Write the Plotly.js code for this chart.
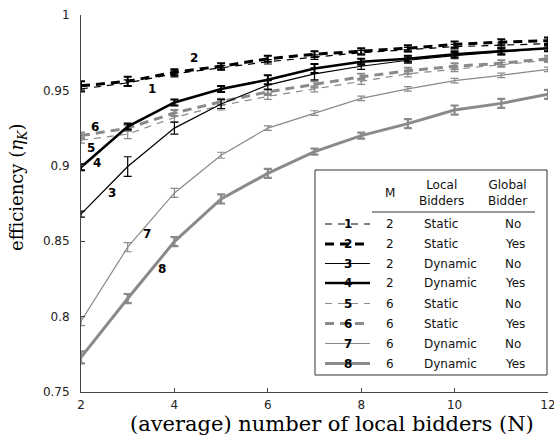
<!DOCTYPE html>
<html>
<head>
<meta charset="utf-8">
<script src="https://cdn.plot.ly/plotly-3.0.1.min.js"></script>
<style>html,body{margin:0;padding:0;background:#fff;}#chart{width:554px;height:441px;}</style>
</head>
<body>
<div id="chart"></div>
<script>
// ---- data ----
const N = [2, 3, 4, 5, 6, 7, 8, 9, 10, 11, 12];
const xTickVals = [2, 4, 6, 8, 10, 12];
const yTickVals = [0.75, 0.8, 0.85, 0.9, 0.95, 1];
const yTickText = ["0.75", "0.8", "0.85", "0.9", "0.95", "1"];

const s1 = [0.951, 0.955, 0.961, 0.965, 0.969, 0.972, 0.975, 0.977, 0.979, 0.980, 0.981];
const s2 = [0.953, 0.956, 0.962, 0.966, 0.971, 0.974, 0.976, 0.978, 0.9805, 0.982, 0.983];
const s3 = [0.868, 0.8995, 0.925, 0.941, 0.9535, 0.961, 0.966, 0.970, 0.973, 0.9755, 0.978];
const s4 = [0.899, 0.926, 0.942, 0.951, 0.957, 0.9645, 0.969, 0.971, 0.974, 0.976, 0.978];
const s5 = [0.917, 0.921, 0.932, 0.940, 0.946, 0.951, 0.956, 0.961, 0.964, 0.967, 0.970];
const s6 = [0.920, 0.925, 0.935, 0.9425, 0.949, 0.954, 0.959, 0.963, 0.966, 0.968, 0.971];
const s7 = [0.797, 0.846, 0.882, 0.907, 0.925, 0.935, 0.9447, 0.951, 0.9565, 0.960, 0.964];
const s8 = [0.773, 0.812, 0.8497, 0.878, 0.895, 0.9094, 0.920, 0.928, 0.937, 0.9414, 0.9474];

const e1 = [0.002, 0.002, 0.002, 0.0015, 0.0015, 0.0015, 0.0015, 0.0015, 0.0015, 0.0015, 0.0015];
const e2 = [0.003, 0.003, 0.002, 0.002, 0.002, 0.002, 0.002, 0.002, 0.002, 0.002, 0.002];
const e3 = [0.002, 0.0065, 0.004, 0.003, 0.003, 0.004, 0.002, 0.002, 0.002, 0.002, 0.002];
const e4 = [0.002, 0.002, 0.002, 0.002, 0.003, 0.003, 0.002, 0.002, 0.002, 0.002, 0.002];
const e5 = [0.002, 0.003, 0.003, 0.003, 0.002, 0.002, 0.002, 0.002, 0.0015, 0.0015, 0.0015];
const e6 = [0.002, 0.002, 0.002, 0.002, 0.002, 0.002, 0.002, 0.002, 0.002, 0.002, 0.002];
const e7 = [0.003, 0.003, 0.003, 0.002, 0.0015, 0.0015, 0.0015, 0.0015, 0.0015, 0.0015, 0.0015];
const e8 = [0.004, 0.003, 0.003, 0.003, 0.003, 0.002, 0.002, 0.003, 0.003, 0.003, 0.003];

const seriesNames = ["1", "2", "3", "4", "5", "6", "7", "8"];
const colM = ["2", "2", "2", "2", "6", "6", "6", "6"];
const colLocal = ["Static", "Static", "Dynamic", "Dynamic", "Static", "Static", "Dynamic", "Dynamic"];
const colGlobal = ["No", "Yes", "No", "Yes", "No", "Yes", "No", "Yes"];

// label positions on the curves (data coords)
const lblX = [3.53, 4.43, 2.67, 2.34, 2.21, 2.31, 3.41, 3.74];
const lblY = [0.9507, 0.9713, 0.8822, 0.9017, 0.9116, 0.926, 0.8548, 0.8314];

// ---- styles ----
const BLACK = "#000000", GRAY = "#8a8a8a";
const styles = [
  {c: BLACK, w: 1.2, dash: "7px,6px", ew: 1.2},
  {c: BLACK, w: 3, dash: "9px,6px", ew: 2},
  {c: BLACK, w: 1.2, dash: "solid", ew: 1.2},
  {c: BLACK, w: 2.6, dash: "solid", ew: 2},
  {c: GRAY, w: 1.2, dash: "7px,6px", ew: 1.2},
  {c: GRAY, w: 3, dash: "9px,6px", ew: 2},
  {c: GRAY, w: 1.2, dash: "solid", ew: 1.2},
  {c: GRAY, w: 3, dash: "solid", ew: 2.2}
];
const ys = [s1, s2, s3, s4, s5, s6, s7, s8];
const es = [e1, e2, e3, e4, e5, e6, e7, e8];

const traces = ys.map((y, i) => ({
  x: N, y: y, type: "scatter", mode: "lines",
  line: {color: styles[i].c, width: styles[i].w, dash: styles[i].dash},
  error_y: {type: "data", array: es[i], visible: true, color: styles[i].c, thickness: styles[i].ew, width: 4},
  showlegend: false, hoverinfo: "skip"
}));
// draw gray first, black on top
const order = [7, 6, 5, 4, 2, 3, 0, 1];
const data = order.map(i => traces[i]);

// plot area in pixels
const L = 81, R = 548, T = 15, B = 392;
const px = v => (v - L) / (R - L);
const py = v => (B - v) / (B - T);

const annotations = [];
const shapes = [];
function ann(x, y, text, font, xanchor, extra) {
  return Object.assign({x: px(x), y: py(y), xref: "paper", yref: "paper", text: text, showarrow: false,
    font: font, xanchor: xanchor || "center", yanchor: "middle"}, extra || {});
}
const numFont = {family: "DejaVu Sans", size: 12, color: "#000"};
seriesNames.forEach((n, i) => {
  annotations.push({x: lblX[i], y: lblY[i], xref: "x", yref: "y", text: "<b>" + n + "</b>",
    showarrow: false, xanchor: "center", yanchor: "middle", font: numFont});
});

// legend table
shapes.push({type: "rect", xref: "paper", yref: "paper", x0: px(315), x1: px(547), y0: py(375), y1: py(170),
  line: {color: "#333", width: 1}, fillcolor: "#fff", layer: "above"});
shapes.push({type: "line", xref: "paper", yref: "paper", x0: px(372), x1: px(535), y0: py(212), y1: py(212),
  line: {color: "#333", width: 1}, layer: "above"});
const tf = {family: "DejaVu Sans", size: 12, color: "#111"};
annotations.push(ann(390, 193, "M", tf));
annotations.push(ann(441, 193, "Local<br>Bidders", tf));
annotations.push(ann(507, 193, "Global<br>Bidder", tf));
const rowY = [224, 244, 263.5, 283, 303.5, 323.5, 343.5, 363.5];
seriesNames.forEach((n, i) => {
  shapes.push({type: "line", xref: "paper", yref: "paper", x0: px(325), x1: px(370), y0: py(rowY[i]), y1: py(rowY[i]),
    line: {color: styles[i].c, width: styles[i].w, dash: styles[i].dash}, layer: "above"});
  annotations.push(ann(348, rowY[i], "<b>" + n + "</b>", numFont));
  annotations.push(ann(390, rowY[i], colM[i], tf));
  annotations.push(ann(422, rowY[i], colLocal[i], tf, "left"));
  annotations.push(ann(503, rowY[i], colGlobal[i], tf, "left"));
});

// axis titles
annotations.push(ann(332, 424, "(average) number of local bidders (N)", {family: "DejaVu Serif", size: 21, color: "#000"}));
annotations.push(ann(18, 187, "efficiency (<i>η</i><sub><i>K</i></sub>)", {family: "DejaVu Serif", size: 18, color: "#000"},
  "center", {textangle: -90}));

const layout = {
  width: 554, height: 441,
  margin: {l: L, r: 554 - R, t: T, b: 441 - B, pad: 0},
  paper_bgcolor: "#fff", plot_bgcolor: "#fff",
  showlegend: false,
  xaxis: {range: [2, 12], tickvals: xTickVals, ticks: "inside", ticklen: 4, tickcolor: "#444",
    showline: true, linecolor: "#444", linewidth: 1, showgrid: false, zeroline: false,
    ticklabeloverflow: "allow", ticklabelstandoff: 2,
    tickfont: {family: "DejaVu Sans", size: 12, color: "#222"}},
  yaxis: {range: [0.75, 1], tickvals: yTickVals, ticktext: yTickText, ticks: "inside", ticklen: 4, tickcolor: "#444",
    showline: true, linecolor: "#444", linewidth: 1, showgrid: false, zeroline: false,
    ticklabelstandoff: 8,
    tickfont: {family: "DejaVu Sans", size: 12, color: "#222"}},
  annotations: annotations, shapes: shapes
};
Plotly.newPlot("chart", data, layout, {staticPlot: true, displayModeBar: false});
</script>
</body>
</html>
